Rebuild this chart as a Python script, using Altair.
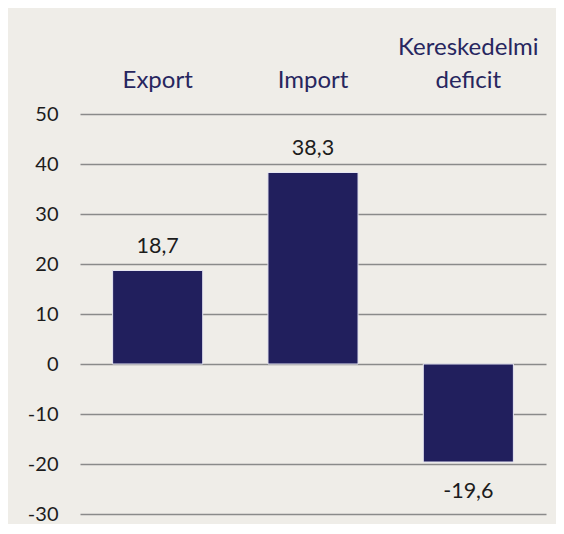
import altair as alt
import pandas as pd

categories = ["Export", "Import", "Kereskedelmi deficit"]
values = [18.7, 38.3, -19.6]
value_labels = ["18,7", "38,3", "-19,6"]
y_ticks = [-30, -20, -10, 0, 10, 20, 30, 40, 50]

df = pd.DataFrame({"cat": categories, "val": values, "lab": value_labels})

FONT = "Lato"
BG = "#efede8"
BAR = "#211f5d"
TXT = "#1c1c1c"

x = alt.X(
    "cat:N",
    sort=categories,
    scale=alt.Scale(paddingInner=0.42, paddingOuter=0.21),
    axis=alt.Axis(
        orient="top", title=None, domain=False, ticks=False, labelAngle=0,
        labelFontSize=24, labelColor="#27265f", labelFont=FONT,
        labelPadding={"condition": {"test": "datum.value == 'Kereskedelmi deficit'", "value": 55}, "value": 22},
        labelExpr="datum.value == 'Kereskedelmi deficit' ? ['Kereskedelmi', 'deficit'] : datum.label",
        labelLineHeight=33, labelLimit=300,
    ),
)
y = alt.Y(
    "val:Q",
    scale=alt.Scale(domain=[-30, 50], nice=False),
    axis=alt.Axis(
        values=y_ticks, title=None, domain=False,
        ticks=False, labelFontSize=20, labelColor=TXT, labelFont=FONT,
        labelPadding=22, gridColor="#8a8a8a", gridWidth=1.6, gridOpacity=1,
        labelExpr="'' + datum.value",
    ),
)

bars = alt.Chart(df).mark_bar(color=BAR, stroke="#e6e6f2", strokeWidth=1).encode(
    x=x, y=y, y2=alt.datum(0)
)

pos = alt.Chart(df).transform_filter("datum.val >= 0").mark_text(
    baseline="alphabetic", dy=-18, fontSize=21.5, font=FONT, color=TXT
).encode(x=x, y=y, text="lab:N")
neg = alt.Chart(df).transform_filter("datum.val < 0").mark_text(
    baseline="alphabetic", dy=36, fontSize=21.5, font=FONT, color=TXT
).encode(x=x, y=y, text="lab:N")

chart = alt.layer(bars, pos, neg).properties(
    width=466, height=400,
    background=BG,
    padding={"left": 72, "top": 106, "right": 10, "bottom": 10},
    autosize=alt.AutoSizeParams(type="none"),
).configure_view(stroke=None)

chart.save("out.html", embed_options={"renderer": "svg", "actions": False})
